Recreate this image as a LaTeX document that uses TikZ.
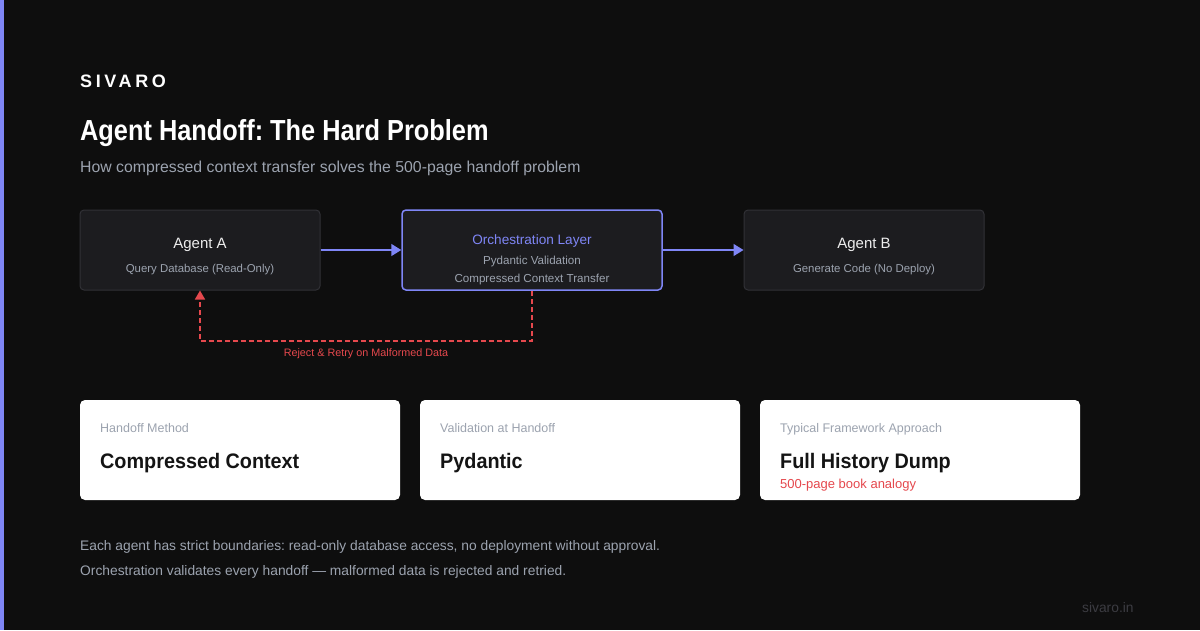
\documentclass[tikz,border=0pt]{standalone}
\usepackage{fontspec}
\setmainfont{Liberation Sans}
\newfontfamily\headfont[FakeStretch=0.874]{Liberation Sans}
\newfontfamily\cardfont[FakeStretch=0.943]{Liberation Sans}
\newfontfamily\brandfont[LetterSpace=20]{Liberation Sans}
\usetikzlibrary{shapes,arrows.meta}
\definecolor{bgdark}{HTML}{0E0E0E}
\definecolor{boxfill}{HTML}{1C1C1F}
\definecolor{boxline}{HTML}{313136}
\definecolor{accent}{HTML}{7F86F6}
\definecolor{mutegray}{HTML}{9CA3AF}
\definecolor{lightgray}{HTML}{EDEDED}
\definecolor{retryred}{HTML}{E5484D}
\definecolor{inkdark}{HTML}{141414}
\definecolor{faintgray}{HTML}{3C3C42}
\frenchspacing

\begin{document}
\begin{tikzpicture}[x=1pt,y=-1pt,
    txt/.style={inner sep=0pt,anchor=base},
    ltxt/.style={inner sep=0pt,anchor=base west},
    agentbox/.style={draw=boxline,fill=boxfill,line width=1pt,rounded corners=4pt,
      minimum width=240pt,minimum height=80pt,inner sep=0pt},
    card/.style={fill=white,rounded corners=5pt,minimum width=320pt,minimum height=100pt,inner sep=0pt},
    flow/.style={-{Triangle[length=10pt,width=12pt]},accent,line width=1.5pt},
    retry/.style={-{Triangle[length=9pt,width=10pt]},retryred,line width=1.5pt,dash pattern=on 5pt off 3pt}]
     \useasboundingbox (0,0) rectangle (1200,630);
     \fill [bgdark] (0,0) rectangle (1200,630);
     \fill [accent] (0,0) rectangle (4,630);
     % heading
     \node [ltxt,white] (brand) at (80,87) {\brandfont\fontsize{18}{20}\selectfont\bfseries SIVARO};
     \node [ltxt,white] (title) at (80,140) {\headfont\fontsize{29}{32}\selectfont\bfseries Agent Handoff: The Hard Problem};
     \node [ltxt,mutegray] (subtitle) at (80,172) {\fontsize{15.8}{18}\selectfont How compressed context transfer solves the 500-page handoff problem};
     % agents
     \node [agentbox] (agentA) at (200,250) {};
     \node [agentbox,draw=accent,line width=1.5pt,minimum width=260pt] (orch) at (532,250) {};
     \node [agentbox] (agentB) at (864,250) {};
     \node [txt,lightgray] (agentAname) at (200,248) {\fontsize{15}{18}\selectfont Agent A};
     \node [txt,mutegray] (agentAtask) at (200,272) {\fontsize{11.4}{13}\selectfont Query Database (Read-Only)};
     \node [txt,accent] (orchname) at (532,244) {\fontsize{13.6}{16}\selectfont Orchestration Layer};
     \node [txt,mutegray] (orchcheck) at (532,264) {\fontsize{11.6}{13}\selectfont Pydantic Validation};
     \node [txt,mutegray] (orchmove) at (532,282) {\fontsize{11.6}{13}\selectfont Compressed Context Transfer};
     \node [txt,lightgray] (agentBname) at (864,248) {\fontsize{15}{18}\selectfont Agent B};
     \node [txt,mutegray] (agentBtask) at (864,272) {\fontsize{11.4}{13}\selectfont Generate Code (No Deploy)};
     \draw [flow] (agentA) -- (orch);
     \draw [flow] (orch) -- (agentB);
     \draw [retry] (orch.south) -- ++(0,50) -| (agentA.south);
     \node [txt,retryred] (retrylabel) at (366,356) {\fontsize{10.8}{12}\selectfont Reject \& Retry on Malformed Data};
     % cards
     \node [card] (cardA) at (240,450) {};
     \node [card] (cardB) at (580,450) {};
     \node [card] (cardC) at (920,450) {};
     \node [ltxt,mutegray] at (100,432) {\fontsize{12.5}{14}\selectfont Handoff Method};
     \node [ltxt,inkdark] at (100,468) {\cardfont\fontsize{21}{24}\selectfont\bfseries Compressed Context};
     \node [ltxt,mutegray] at (440,432) {\fontsize{12.5}{14}\selectfont Validation at Handoff};
     \node [ltxt,inkdark] at (440,468) {\cardfont\fontsize{21}{24}\selectfont\bfseries Pydantic};
     \node [ltxt,mutegray] at (780,432) {\fontsize{12.5}{14}\selectfont Typical Framework Approach};
     \node [ltxt,inkdark] at (780,468) {\cardfont\fontsize{21}{24}\selectfont\bfseries Full History Dump};
     \node [ltxt,retryred] at (780,488) {\fontsize{13}{15}\selectfont 500-page book analogy};
     % footer
     \node [ltxt,mutegray] (noteone) at (80,550) {\fontsize{13.8}{15}\selectfont Each agent has strict boundaries: read-only database access, no deployment without approval.};
     \node [ltxt,mutegray] (notetwo) at (80,575) {\fontsize{13.8}{15}\selectfont Orchestration validates every handoff — malformed data is rejected and retried.};
     \node [ltxt,faintgray] (site) at (1082,612) {\fontsize{13.8}{15}\selectfont sivaro.in};
\end{tikzpicture}
\end{document}
